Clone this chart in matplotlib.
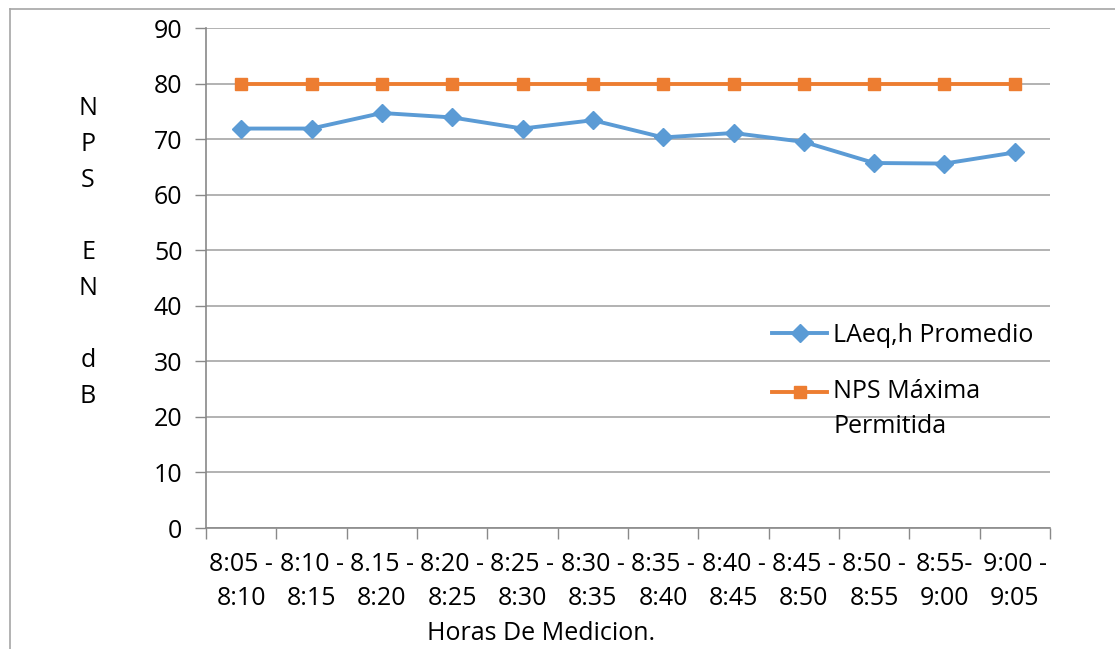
import matplotlib.pyplot as plt
from matplotlib.lines import Line2D
from matplotlib.legend_handler import HandlerLine2D

# Datos de la medicion
horarios = ['8:05 -\n8:10', '8:10 -\n8:15', '8.15 -\n8:20', '8:20 -\n8:25',
            '8:25 -\n8:30', '8:30 -\n8:35', '8:35 -\n8:40', '8:40 -\n8:45',
            '8:45 -\n8:50', '8:50 -\n8:55', '8:55-\n9:00', '9:00 -\n9:05']
laeq_promedio = [71.9, 71.9, 74.7, 73.9, 71.9, 73.4, 70.3, 71.1, 69.5, 65.7, 65.6, 67.6]
nps_maxima = [80, 80, 80, 80, 80, 80, 80, 80, 80, 80, 80, 80]

plt.rcParams['font.family'] = ['Open Sans', 'DejaVu Sans']
plt.rcParams['font.size'] = 18


class HandlerPrimeraLinea(HandlerLine2D):
    """Coloca el simbolo de la leyenda a la altura de la primera linea del texto."""
    def __init__(self, subir=0, **kw):
        super().__init__(**kw)
        self.subir = subir

    def create_artists(self, legend, orig_handle, xdescent, ydescent, width,
                       height, fontsize, trans):
        return super().create_artists(legend, orig_handle, xdescent,
                                      ydescent - 2 * self.subir, width, height,
                                      fontsize, trans)


W, H = 1115, 649
fig = plt.figure(figsize=(W / 100, H / 100), dpi=100)
ax = fig.add_axes([206 / W, 1 - 528 / H, (1050 - 206) / W, 500 / H])

x = list(range(len(horarios)))
linea_laeq, = ax.plot(x, laeq_promedio, color='#5B9BD5', lw=2.8, marker='D',
                      markersize=9, label='LAeq,h Promedio', zorder=3)
linea_nps, = ax.plot(x, nps_maxima, color='#ED7D31', lw=2.8, marker='s',
                     markersize=9, label='NPS Máxima\nPermitida', zorder=3)

# ejes
ax.set_xlim(-0.5, len(horarios) - 0.5)
ax.set_ylim(0, 90)
ax.set_yticks(range(0, 91, 10))
ax.set_xticks([i - 0.5 for i in range(len(horarios) + 1)])
ax.set_xticklabels([])
ax.set_xticks(x, minor=True)
ax.set_xticklabels(horarios, minor=True)
for t in ax.get_xticklabels(minor=True):
    t.set_linespacing(1.5)
ax.tick_params(axis='x', which='major', length=8, color='#898989', width=1)
ax.tick_params(axis='x', which='minor', length=0, pad=17)
ax.tick_params(axis='y', length=8, color='#898989', width=1, pad=9)
ax.yaxis.grid(True, color='#A6A6A6', lw=1.2)
ax.set_axisbelow(True)
for s in ['top', 'right']:
    ax.spines[s].set_visible(False)
for s in ['left', 'bottom']:
    ax.spines[s].set_color('#898989')
    ax.spines[s].set_linewidth(1.2)

ax.set_xlabel('Horas De Medicion.', x=(541 - 206) / 844, labelpad=7)

# titulo del eje y en letras apiladas
fig.text(88 / W, 1 - 96 / H, 'N\nP\nS\n\nE\nN\n\nd\nB', ha='center', va='top',
         linespacing=1.58)

leg = ax.legend(loc='upper left', bbox_to_anchor=((772 - 206) / 844, (528 - 323) / 500),
                frameon=False, handlelength=2.2, handletextpad=0.25, labelspacing=1.25,
                borderaxespad=0, borderpad=0,
                handler_map={linea_nps: HandlerPrimeraLinea(subir=12.8)})
for t in leg.get_texts():
    t.set_linespacing(1.5)

# marco exterior del grafico
fig.add_artist(Line2D([10 / W, 10 / W], [0, 1 - 9 / H], color='#A6A6A6', lw=1.2))
fig.add_artist(Line2D([10 / W, 1], [1 - 9 / H, 1 - 9 / H], color='#A6A6A6', lw=1.2))

fig.savefig('out.png', dpi=100)
